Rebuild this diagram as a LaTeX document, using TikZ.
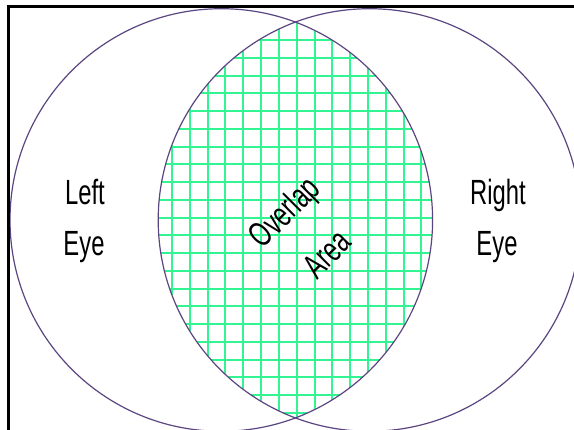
\documentclass[tikz,border=0pt]{standalone}
\usepackage{fontspec}
\usepackage{graphicx}
\setmainfont{Liberation Sans}
\definecolor{ringcol}{RGB}{92,70,130}
\definecolor{gridcol}{RGB}{50,245,145}
\tikzset{
  eyelabel/.style={inner sep=0pt, font=\fontsize{35}{42}\selectfont},
  ring/.style={draw=ringcol, line width=1.2pt},
  gridline/.style={draw=gridcol, line width=2pt},
  framecol/.style={draw=black, line width=3pt}
}
\newcommand{\narrow}[1]{\scalebox{0.68}[1]{#1}}
\begin{document}
\begin{tikzpicture}[x=1pt, y=-1pt]
\useasboundingbox (0,0) rectangle (574,430);
\fill[white] (0,0) rectangle (574,430);
\coordinate (lc) at (221.3,220);
\coordinate (rc) at (369.5,220);
% grid in the overlap (endpoints on the lens outline, lines on whole pixels)
\foreach \k in {-7,...,7} {
  \pgfmathsetmacro{\xx}{round(296.7+\k*17.8)}
  \pgfmathsetmacro{\hh}{100*min(sqrt(2.113*2.113-((\xx-221.3)/100)^2), sqrt(2.113*2.113-((\xx-369.5)/100)^2))}
  \coordinate (vt\k) at (\xx,{220-\hh});
  \coordinate (vb\k) at (\xx,{220+\hh});
  \draw[gridline] (vt\k) -- (vb\k);
}
\foreach \k in {0,...,21} {
  \pgfmathsetmacro{\yy}{round(40+\k*17.75)}
  \pgfmathsetmacro{\ww}{100*sqrt(2.113*2.113-((\yy-220)/100)^2)}
  \coordinate (hl\k) at ({369.5-\ww},\yy);
  \coordinate (hr\k) at ({221.3+\ww},\yy);
  \draw[gridline] (hl\k) -- (hr\k);
}
% circles
\draw[ring] (lc) circle[radius=211.3pt];
\draw[ring] (rc) circle[radius=211.3pt];
% frame
\coordinate (fa) at (8,430);
\coordinate (fb) at (8,6.5);
\coordinate (fc) at (574,6.5);
\draw[framecol] (fa) -- (fb) -- (fc);
% labels
\node[eyelabel, anchor=base] (left1) at (85,205) {\narrow{Left}};
\node[eyelabel, anchor=base] (left2) at (84,256) {\narrow{Eye}};
\node[eyelabel, anchor=base] (right1) at (498,205) {\narrow{Right}};
\node[eyelabel, anchor=base] (right2) at (497,256) {\narrow{Eye}};
\node[eyelabel, rotate=45] (ov1) at (286,214) {\narrow{Overlap}};
\node[eyelabel, rotate=45] (ov2) at (327,254) {\narrow{Area}};
\end{tikzpicture}
\end{document}
